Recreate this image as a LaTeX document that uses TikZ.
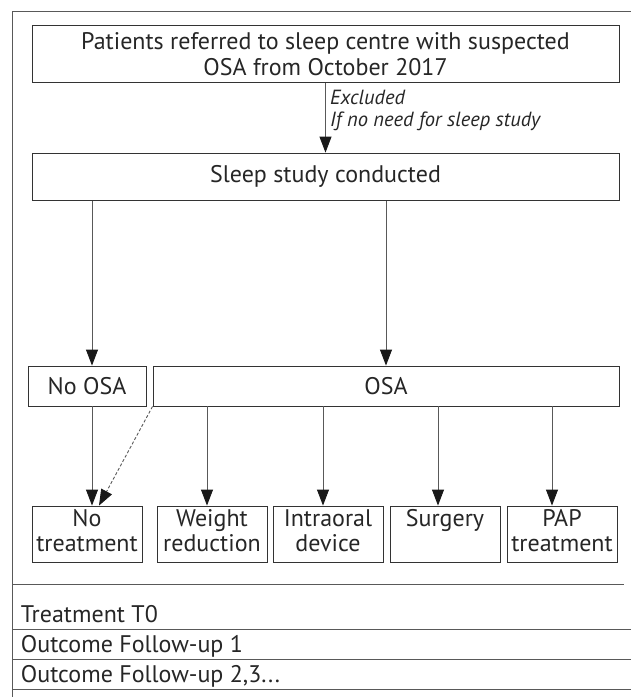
\documentclass[tikz,border=0pt]{standalone}
\usepackage{fontspec}
\setmainfont{PT Sans}
\usetikzlibrary{arrows.meta}
\tikzset{
	box/.style={draw=black!80, line width=0.9pt, inner sep=0pt, align=center, text=black!85},
	arr/.style={draw=black!65, line width=0.9pt, -{Triangle[length=16pt,width=12pt,color=black!90,fill=black!90]}},
	rule/.style={draw=black!65, line width=1pt},
	rowlabel/.style={anchor=base west, inner sep=0pt, text=black!85},
}
\newcommand{\twolines}[2]{\strut#1\\\strut#2}

\begin{document}
\begin{tikzpicture}[x=1pt, y=-1pt, font=\fontsize{24}{25}\selectfont]
		%%%%% START %%%%%
		\useasboundingbox (0,0) rectangle (631,697);
		\draw[rule] (12.3,697) -- (12.3,11) -- (631,11);
		
		\node[box, minimum width=587pt, minimum height=57.4pt, font=\fontsize{24}{26}\selectfont] (referred) at (325.5,54) {Patients referred to sleep centre with suspected\\OSA from October 2017};
		\node[box, minimum width=587pt, minimum height=47.7pt] (study) at (325.5,176.9) {Sleep study conducted};
		\draw[arr] (referred) -- (study);
		\node[anchor=north west, align=left, inner sep=0pt, text=black!85, font=\fontsize{20.5}{22}\selectfont\itshape] (excluded) at (330,90) {Excluded\\If no need for sleep study};
		
		\node[box, minimum width=118pt, minimum height=40pt] (noosa) at (87,386) {No OSA};
		\node[box, minimum width=466pt, minimum height=40pt] (osa) at (386,386) {OSA};
		\draw[arr] ([xshift=5pt]noosa.north |- study.south) -- ([xshift=5pt]noosa.north);
		\draw[arr] (osa.north |- study.south) -- (osa.north);
		
		\node[box, minimum width=110pt, minimum height=56pt] (notreat) at (87,534) {\twolines{No}{treatment}};
		\node[box, minimum width=110pt, minimum height=56pt] (weight) at (212,534) {\twolines{Weight}{reduction}};
		\node[box, minimum width=110pt, minimum height=56pt] (intraoral) at (328,534) {\twolines{Intraoral}{device}};
		\node[box, minimum width=110pt, minimum height=56pt] (surgery) at (445,534) {\twolines{Surgery}{}};
		\node[box, minimum width=110pt, minimum height=56pt] (pap) at (562,534) {\twolines{PAP}{treatment}};
		
		\draw[arr] ([xshift=5pt]noosa.south) -- ([xshift=5pt]notreat.north);
		\draw[arr, dash pattern=on 3pt off 2pt] (osa.south west) -- ([xshift=12pt]notreat.north);
		\draw[arr] ([xshift=-5pt]weight.north |- osa.south) -- ([xshift=-5pt]weight.north);
		\draw[arr] ([xshift=-5pt]intraoral.north |- osa.south) -- ([xshift=-5pt]intraoral.north);
		\draw[arr] ([xshift=-7pt]surgery.north |- osa.south) -- ([xshift=-7pt]surgery.north);
		\draw[arr] ([xshift=-10pt]pap.north |- osa.south) -- ([xshift=-10pt]pap.north);
		
		\draw[rule] (12.3,584) -- (624,584);
		\node[rowlabel] (t0) at (20.7,622) {Treatment T0};
		\draw[rule] (12.3,629) -- (631,629);
		\node[rowlabel] (fu1) at (20.7,652) {Outcome Follow-up 1};
		\draw[rule] (12.3,659) -- (631,659);
		\node[rowlabel] (fu2) at (20.7,682) {Outcome Follow-up 2,3...};
		\draw[rule] (12.3,689) -- (631,689);
		%%%%% END %%%%%
	\end{tikzpicture}
\end{document}
